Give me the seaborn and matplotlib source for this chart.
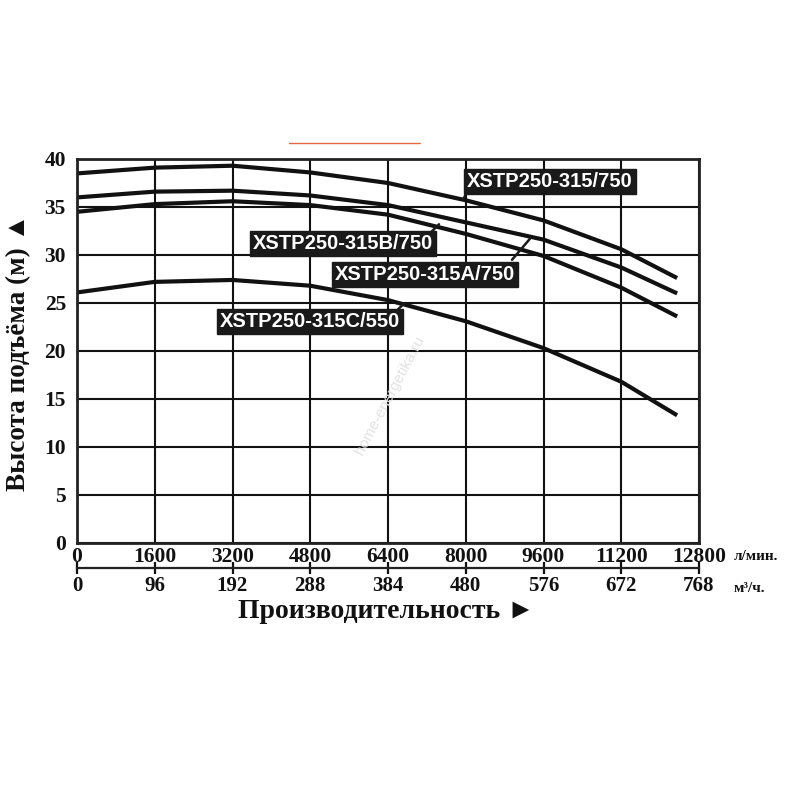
import matplotlib
matplotlib.use("Agg")
import matplotlib.pyplot as plt
import seaborn as sns
import pandas as pd
from matplotlib.lines import Line2D

# ---- data ----
flow_lpm = [0, 1600, 3200, 4800, 6400, 8000, 9600, 11200, 12350]
head_315 = [38.5, 39.1, 39.3, 38.6, 37.5, 35.7, 33.6, 30.6, 27.6]
head_315B = [36.0, 36.6, 36.7, 36.2, 35.2, 33.4, 31.6, 28.7, 26.0]
head_315A = [34.5, 35.3, 35.6, 35.2, 34.2, 32.2, 29.9, 26.6, 23.6]
head_315C = [26.1, 27.2, 27.4, 26.8, 25.3, 23.1, 20.3, 16.8, 13.3]

x_ticks_lpm = [0, 1600, 3200, 4800, 6400, 8000, 9600, 11200, 12800]
x_ticks_m3h = [0, 96, 192, 288, 384, 480, 576, 672, 768]
y_ticks = [0, 5, 10, 15, 20, 25, 30, 35, 40]

label_315 = "XSTP250-315/750"
label_B = "XSTP250-315B/750"
label_A = "XSTP250-315A/750"
label_C = "XSTP250-315C/550"

rows = []
for name, vals in [("c1", head_315), ("c2", head_315B), ("c3", head_315A), ("c4", head_315C)]:
    for q, h in zip(flow_lpm, vals):
        rows.append({"curve": name, "flow": q, "head": h})
df = pd.DataFrame(rows)

sns.set_theme(style="white")
plt.rcParams["font.family"] = ["Liberation Serif", "DejaVu Serif"]

fig = plt.figure(figsize=(8, 8), dpi=100)
ax = fig.add_axes([77 / 800, 1 - 543 / 800, 622 / 800, 384 / 800])

sns.lineplot(data=df, x="flow", y="head", hue="curve",
             palette=["#111111"] * 4, linewidth=3.0, legend=False, ax=ax,
             solid_capstyle="butt")
for ln in ax.lines:
    ln.set_solid_joinstyle("round")

ax.set_xlim(0, 12800)
ax.set_ylim(0, 40)
ax.set_xticks(x_ticks_lpm)
ax.set_yticks(y_ticks)
ax.set_xticklabels([str(v) for v in x_ticks_lpm])
ax.set_yticklabels([str(v) for v in y_ticks])
ax.grid(True, color="#111111", linewidth=1.5)
for s in ax.spines.values():
    s.set_color("#222222")
    s.set_linewidth(2)
ax.tick_params(axis="both", length=0, labelsize=15.5, colors="#111111")
ax.tick_params(axis="x", pad=3)
ax.tick_params(axis="y", pad=8)
for t in ax.get_xticklabels() + ax.get_yticklabels():
    t.set_fontweight("bold")
ax.set_xlabel("")
ax.set_ylabel("")

# secondary flow axis in m3/h
sec = ax.secondary_xaxis(-0.065, functions=(lambda v: v * 0.06, lambda v: v / 0.06))
sec.set_xticks(x_ticks_m3h)
sec.set_xticklabels([str(v) for v in x_ticks_m3h])
sec.spines["bottom"].set_linewidth(1.6)
sec.spines["bottom"].set_color("#222222")
sec.tick_params(axis="x", direction="inout", length=8, width=1.6, labelsize=15,
                pad=2, colors="#111111")
for t in sec.get_xticklabels():
    t.set_fontweight("bold")

# units
fig.text(734 / 800, 1 - 557 / 800, "л/мин.", fontsize=11, fontweight="bold",
         ha="left", va="center", color="#111111")
fig.text(734 / 800, 1 - 589 / 800, "м³/ч.", fontsize=11, fontweight="bold",
         ha="left", va="center", color="#111111")

# axis titles
fig.text(386 / 800, 1 - 612 / 800, "Производительность ►", fontsize=20,
         fontweight="bold", ha="center", va="center", color="#111111",
         family=["Liberation Serif", "DejaVu Sans"])
fig.text(19 / 800, 1 - 352 / 800, "Высота подъёма (м) ▲", fontsize=19.5,
         fontweight="bold", ha="center", va="center", rotation=90, color="#111111",
         family=["Liberation Serif", "DejaVu Sans"])

# curve labels with leader lines
box = dict(boxstyle="square,pad=0.15", facecolor="#1a1a1a", edgecolor="#1a1a1a")
lab_kw = dict(fontsize=14.5, fontweight="bold", color="white", ha="center", va="center",
              family=["Liberation Sans", "DejaVu Sans"], bbox=box, zorder=5)
ax.text(9734, 37.7, label_315, **lab_kw)
ax.text(5474, 31.15, label_B, **lab_kw)
ax.text(7161, 28.0, label_A, **lab_kw)
ax.text(4795, 23.1, label_C, **lab_kw)

lead_kw = dict(color="#1a1a1a", linewidth=1.8, zorder=4)
ax.plot([8040, 7943], [36.6, 35.8], **lead_kw)
ax.plot([7290, 7450], [32.4, 33.2], **lead_kw)
ax.plot([8952, 9322], [29.5, 31.7], **lead_kw)
ax.plot([6600, 6720], [24.3, 24.9], **lead_kw)

# watermark
fig.text(390 / 800, 1 - 395 / 800, "home-energetika.ru", fontsize=11, color="#e2e2e2",
         rotation=62, ha="center", va="center", family=["Liberation Sans", "DejaVu Sans"])

# thin line at top
fig.add_artist(Line2D([289 / 800, 420 / 800], [1 - 143 / 800, 1 - 143 / 800],
                      color="#e06a4a", linewidth=1.0, transform=fig.transFigure))

fig.savefig("out.png", dpi=100, facecolor="white")
